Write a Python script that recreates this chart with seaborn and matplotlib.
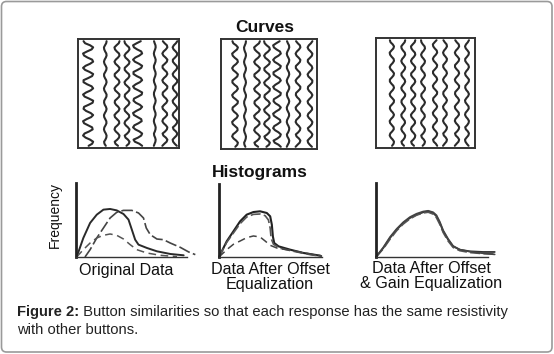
import numpy as np
import matplotlib
matplotlib.use("Agg")
import matplotlib.pyplot as plt
from matplotlib.patches import FancyBboxPatch
import seaborn as sns

sns.set_style("white")
plt.rcParams['font.family'] = ['Liberation Sans', 'DejaVu Sans']

W, H = 554, 354

# ---------------- data ----------------
# hand-traced wiggle shape (normalised lateral displacement along each trace)
wiggle = [0.1, 0.8, 1.0, 0.4, -0.5, -1.0, -0.7, 0.2, 0.9, 0.8, 0.0, -0.8, -1.0,
          -0.3, 0.6, 1.0, 0.5, -0.4, -0.9, -0.8, 0.1, 0.9, 1.0, 0.2, -0.7, -1.0,
          -0.4, 0.5, 1.0, 0.7, -0.2, -0.9, -0.9, 0.0, 0.8, 1.0, 0.3, -0.6, -1.0,
          -0.5, 0.4, 1.0, 0.8, -0.1, -0.8, -1.0, -0.2, 0.7, 1.0, 0.4, -0.6, -0.9]

curve_bases_1 = [10, 27, 38.6, 48.5, 59, 76, 86, 96]
curve_amps_1 = [5.0, 1.3, 2.5, 2.5, 4.5, 0.9, 2.5, 2.3]
curve_bases_2 = [14.6, 25, 37.5, 47.9, 58.3, 69.8, 80.2, 92.7]
curve_amps_2 = [3.0, 1.0, 3.0, 3.0, 4.0, 1.3, 2.5, 2.5]
curve_bases_3 = [16, 27.5, 37.5, 47.5, 59.6, 69.7, 81.8, 91.9]
curve_amps_3 = [2.2, 2.0, 2.2, 2.0, 2.2, 2.0, 2.2, 2.0]
curve_shift = [0, 2, 1, 3, 0, 2, 1, 3]

# histogram curves (x, frequency)
h1a_x = [0.6, 6.6, 12.7, 18.7, 24.7, 30.7, 36.7, 42.8, 47.3, 50.3, 53.3, 56.3, 63.9, 72.9, 84.9, 97]
h1a_y = [0, 25.7, 46, 57.2, 64, 64.9, 63, 58.1, 50.5, 37, 23.4, 16.7, 12.2, 7.7, 4.1, 2.3]
h1b_x = [8.1, 12.7, 18.7, 24.7, 30.7, 36.7, 42.8, 50.3, 56.3, 60.8, 63.3, 66.9, 72.9, 78.9, 84.9, 94, 101.5, 107.5]
h1b_y = [0, 9.9, 25.7, 39.2, 52.7, 60.4, 63, 63, 59.5, 52.7, 39.2, 30.2, 24.3, 23.4, 18.9, 13, 6.8, 3.2]
h1c_x = [0.6, 6.6, 12.7, 18.7, 24.7, 30.7, 36.7, 42.8, 48.8, 54.8, 63.9, 75.9, 91]
h1c_y = [0, 9.9, 18.9, 25.7, 29.3, 31.1, 29.3, 24.3, 16.7, 9.9, 5.4, 2.3, 0.5]

h2a_x = [0, 7.5, 14, 20.5, 26.9, 33.4, 39.9, 46.4, 49.7, 51.3, 52.3, 53.6, 57.8, 69.2, 82.1, 98.4]
h2a_y = [0, 21.5, 35.2, 48.9, 58, 61.6, 62.6, 60.3, 55.7, 44.3, 28.3, 19.2, 14.6, 10, 5.5, 1.8]
h2b_x = [0, 7.5, 14, 20.5, 26.9, 33.4, 39.9, 44.8, 48, 49.7, 50.6, 52.9, 59.4, 72.4, 88.6, 100]
h2b_y = [0, 20.1, 32.9, 45.7, 54.8, 58.4, 58.9, 56.6, 50.7, 39.3, 25.6, 17.4, 11.9, 7.8, 3.2, 0.9]
h2c_x = [0, 7.5, 14, 20.5, 26.9, 33.4, 39.9, 44.8, 49.7, 56.2, 65.9, 78.9, 91.9, 100]
h2c_y = [0, 10, 17.4, 21.9, 26.5, 28.8, 27.4, 21.9, 16, 12.3, 10, 6.8, 3.2, 1.4]

h3_x = [0, 6.5, 12.5, 18.4, 24.3, 30.3, 36.2, 42.1, 46.6, 51, 54, 57, 60, 64.4, 68.8, 74.8, 83.7, 95.5, 106]
h3a_y = [0, 12.2, 25.7, 36.9, 45.9, 52.7, 57.2, 60.4, 61.7, 59.5, 55, 45.9, 34.7, 23.4, 14.4, 9.9, 7.7, 6.8, 6.8]
h3b_y = [0, 11, 24, 35.5, 44.5, 51.5, 56.5, 59.5, 60.5, 58, 53, 44, 33, 21.5, 13, 8.5, 6.0, 4.5, 4.0]
h3c_y = [0, 13, 27, 38, 47, 54, 58.5, 61.5, 62.5, 60.5, 56.5, 47.5, 36, 24.5, 15, 10, 7.2, 5, 3.5]

title_curves = "Curves"
title_hist = "Histograms"
ylabel_hist = "Frequency"
hist_labels = ["Original Data", "Data After Offset\nEqualization", "Data After Offset\n& Gain Equalization"]
caption_bold = "Figure 2:"
caption_rest = " Button similarities so that each response has the same resistivity"
caption_line2 = "with other buttons."

# ---------------- layout helpers ----------------
fig = plt.figure(figsize=(W / 100, H / 100), dpi=100)


def rect(x0, y0, x1, y1):
    return [x0 / W, 1 - y1 / H, (x1 - x0) / W, (y1 - y0) / H]


# overlay for border and texts (pixel coordinates)
ov = fig.add_axes([0, 0, 1, 1])
ov.set_xlim(0, W)
ov.set_ylim(H, 0)
ov.axis("off")
ov.add_patch(FancyBboxPatch((1.5, 1.5), W - 3.5, H - 3.5,
                            boxstyle="round,pad=0,rounding_size=5",
                            fc="none", ec="#9a9a9a", lw=1.2))

# ---------------- curves panels ----------------
curve_sets = [
    ((78, 39, 179, 148), curve_bases_1, curve_amps_1),
    ((221, 39, 317, 149), curve_bases_2, curve_amps_2),
    ((376, 38, 475, 148), curve_bases_3, curve_amps_3),
]
wig = np.array(wiggle)
ys = np.linspace(2, 98, len(wig))
for box, bases, amps in curve_sets:
    ax = fig.add_axes(rect(*box))
    ax.set_xlim(0, 100)
    ax.set_ylim(0, 100)
    ax.set_xticks([])
    ax.set_yticks([])
    for s in ax.spines.values():
        s.set_color("#333333")
        s.set_linewidth(1.4)
    for i, (b, a) in enumerate(zip(bases, amps)):
        xs = b + a * np.roll(wig, curve_shift[i] + i)
        sns.lineplot(x=xs, y=ys, sort=False, estimator=None, ax=ax,
                     color="#2b2b2b", lw=1.5)

# ---------------- histogram panels ----------------
hist_boxes = [(76, 183, 187, 257), (219, 184, 322, 257), (376, 183, 488, 257)]
hist_curves = [
    [(h1a_x, h1a_y, "-", "#2a2a2a", 1.4), (h1b_x, h1b_y, (0, (7, 2)), "#444444", 1.2),
     (h1c_x, h1c_y, (0, (5, 3)), "#555555", 1.1)],
    [(h2a_x, h2a_y, "-", "#222222", 1.5), (h2b_x, h2b_y, (0, (6, 2)), "#555555", 1.2),
     (h2c_x, h2c_y, (0, (5, 3)), "#444444", 1.1)],
    [(h3_x, h3a_y, "-", "#333333", 1.3), (h3_x, h3b_y, (0, (6, 2)), "#555555", 1.2),
     (h3_x, h3c_y, "-", "#444444", 1.2)],
]
for box, curves in zip(hist_boxes, hist_curves):
    ax = fig.add_axes(rect(*box))
    ax.set_xlim(0, 100)
    ax.set_ylim(0, 100)
    ax.set_xticks([])
    ax.set_yticks([])
    ax.patch.set_alpha(0)
    for side in ("top", "right"):
        ax.spines[side].set_visible(False)
    ax.spines["left"].set_linewidth(2.0)
    ax.spines["left"].set_color("#222222")
    ax.spines["bottom"].set_linewidth(1.0)
    ax.spines["bottom"].set_color("#333333")
    for xs, yv, ls, col, lw in curves:
        sns.lineplot(x=xs, y=yv, sort=False, estimator=None, ax=ax,
                     color=col, lw=lw, linestyle=ls)
    for ln in ax.lines:
        ln.set_clip_on(False)

# ---------------- texts ----------------
ov.text(265, 27, title_curves, ha="center", va="center", fontsize=12.5,
        fontweight="bold", color="#111111")
ov.text(259.5, 172, title_hist, ha="center", va="center", fontsize=12.5,
        fontweight="bold", color="#111111")
ov.text(55, 215, ylabel_hist, ha="center", va="center", rotation=90,
        fontsize=10, color="#111111")
ov.text(126, 271, hist_labels[0], ha="center", va="center", fontsize=11.6, color="#111111")
ov.text(270, 277, hist_labels[1], ha="center", va="center", fontsize=11.6,
        color="#111111", linespacing=0.95)
ov.text(431, 276, hist_labels[2], ha="center", va="center", fontsize=11.6,
        color="#111111", linespacing=0.95)

cap_fs = 10.6
t1 = ov.text(17, 312, caption_bold, ha="left", va="center", fontsize=cap_fs,
             fontweight="bold", color="#222222")
fig.canvas.draw()
bb = t1.get_window_extent()
x_end = bb.x1 * W / (fig.get_figwidth() * fig.dpi)
ov.text(x_end, 312, caption_rest, ha="left", va="center", fontsize=cap_fs, color="#222222")
ov.text(17, 330, caption_line2, ha="left", va="center", fontsize=cap_fs, color="#222222")

fig.savefig("out.png", dpi=100)
